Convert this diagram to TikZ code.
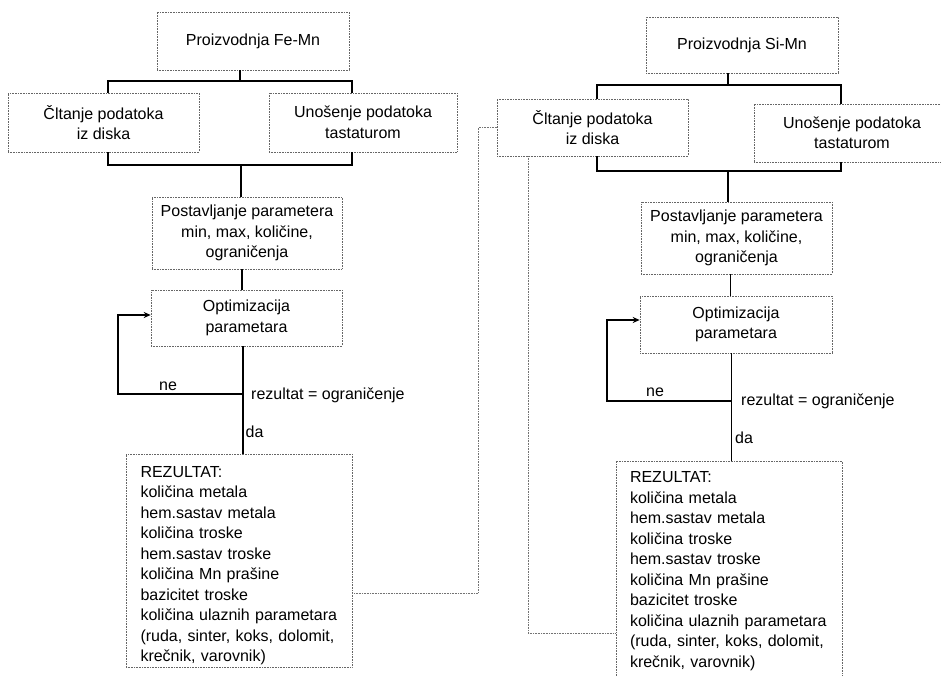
\documentclass[tikz,border=0pt]{standalone}
\usepackage{fontspec}
\setmainfont{Liberation Sans}
\usetikzlibrary{arrows.meta}
\begin{document}
\begin{tikzpicture}[x=1pt,y=-1pt,
  box/.style={draw=black!60, densely dotted, line width=0.6pt, inner sep=0pt, align=center,
    font=\fontsize{16}{20.5}\selectfont},
  listtext/.style={inner sep=0pt, align=left, text width=200pt, font=\fontsize{16}{20.5}\selectfont},
  conn/.style={draw=black, line width=1.5pt},
  xlink/.style={draw=black!55, densely dotted, line width=0.6pt},
  lbl/.style={inner sep=0pt, font=\fontsize{16}{20}\selectfont},
  tip/.style={-{Stealth[length=7pt,width=6pt]}}]
\useasboundingbox (0,0) rectangle (941,676);

% ---------------- left: Fe-Mn ----------------
\node[box, minimum width=192pt, minimum height=58pt] (pfe) at (253,41) {Proizvodnja Fe-Mn};
\node[box, minimum width=191pt, minimum height=59pt] (cfe) at (103.5,122.5) {Čltanje podatoka\\iz diska};
\node[box, minimum width=188pt, minimum height=59pt] (ufe) at (363,122.5) {Unošenje podatoka\\tastaturom};
\node[box, minimum width=190pt, minimum height=72pt] (postfe) at (247,233) {Postavljanje parametera\\min, max, količine,\\ograničenja};
\node[box, minimum width=191pt, minimum height=56pt] (optfe) at (246.5,318) {Optimizacija\\parametara};
\node[box, minimum width=226pt, minimum height=213pt] (rezfe) at (239,560.5) {};
\node[listtext] (rezfetxt) at (240.5,565.5) {REZULTAT:\\količina metala\\hem.sastav metala\\količina troske\\hem.sastav troske\\količina Mn prašine\\bazicitet troske\\količina ulaznih parametara\\(ruda, sinter, koks, dolomit,\\krečnik, varovnik)};

\coordinate (fe0) at (240,81);
\coordinate (fe1) at (108,81);
\coordinate (fe2) at (352,81);
\coordinate (fe3) at (108,165);
\coordinate (fe4) at (352,165);
\coordinate (fe5) at (241,165);
\coordinate (fe6) at (242,300);
\coordinate (fe7) at (243,394);
\coordinate (fe8) at (118,315);

\draw[conn] (fe0 |- pfe.south) -- (fe0);
\draw[conn] (fe1 |- cfe.north) -- (fe1) -- (fe2) -- (fe2 |- ufe.north);
\draw[conn] (fe3 |- cfe.south) -- (fe3) -- (fe4) -- (fe4 |- ufe.south);
\draw[conn] (fe5) -- (fe5 |- postfe.north);
\draw[conn] (fe6 |- postfe.south) -- (fe6 |- optfe.north);
\draw[conn] (fe7 |- optfe.south) -- (fe7 |- rezfe.north);
\draw[conn, tip] (fe7) -| (fe8) -- (fe8 -| optfe.west);

\node[lbl] (nefe) at (168,386) {ne};
\node[lbl, anchor=west] (rfe) at (251,395) {rezultat = ograničenje};
\node[lbl, anchor=west] (dafe) at (245.5,432) {da};

% ---------------- right: Si-Mn ----------------
\node[box, minimum width=192pt, minimum height=56pt] (psi) at (742,45) {Proizvodnja Si-Mn};
\node[box, minimum width=191pt, minimum height=57pt] (csi) at (592.5,127.5) {Čltanje podatoka\\iz diska};
\node[box, minimum width=196pt, minimum height=58pt] (usi) at (852,133) {Unošenje podatoka\\tastaturom};
\node[box, minimum width=191pt, minimum height=72pt] (postsi) at (736.5,238) {Postavljanje parametera\\min, max, količine,\\ograničenja};
\node[box, minimum width=192pt, minimum height=57pt] (optsi) at (736,324.5) {Optimizacija\\parametara};
\node[box, minimum width=226pt, minimum height=217pt] (rezsi) at (729,569.5) {};
\node[listtext] (rezsitxt) at (730,571) {REZULTAT:\\količina metala\\hem.sastav metala\\količina troske\\hem.sastav troske\\količina Mn prašine\\bazicitet troske\\količina ulaznih parametara\\(ruda, sinter, koks, dolomit,\\krečnik, varovnik)};

\coordinate (si0) at (728,85);
\coordinate (si1) at (597,85);
\coordinate (si2) at (841,85);
\coordinate (si3) at (597,171);
\coordinate (si4) at (841,171);
\coordinate (si5) at (728,171);
\coordinate (si6) at (730.5,300);
\coordinate (si7) at (731.5,401);
\coordinate (si8) at (607,320);

\draw[conn] (si0 |- psi.south) -- (si0);
\draw[conn] (si1 |- csi.north) -- (si1) -- (si2) -- (si2 |- usi.north);
\draw[conn] (si3 |- csi.south) -- (si3) -- (si4) -- (si4 |- usi.south);
\draw[conn] (si5) -- (si5 |- postsi.north);
\draw[conn] (si6 |- postsi.south) -- (si6 |- optsi.north);
\draw[conn] (si7 |- optsi.south) -- (si7 |- rezsi.north);
\draw[conn, tip] (si7) -| (si8) -- (si8 -| optsi.west);

\node[lbl] (nesi) at (655,392) {ne};
\node[lbl, anchor=west] (rsi) at (741,401) {rezultat = ograničenje};
\node[lbl, anchor=west] (dasi) at (735,438) {da};

% ---------------- cross links ----------------
\coordinate (k1) at (478,593);
\coordinate (k2) at (528,633);
\draw[xlink] (k1 -| rezfe.east) -- (k1) |- (csi.west);
\draw[xlink] (k2 |- csi.south) -- (k2) -- (k2 -| rezsi.west);
\end{tikzpicture}
\end{document}
